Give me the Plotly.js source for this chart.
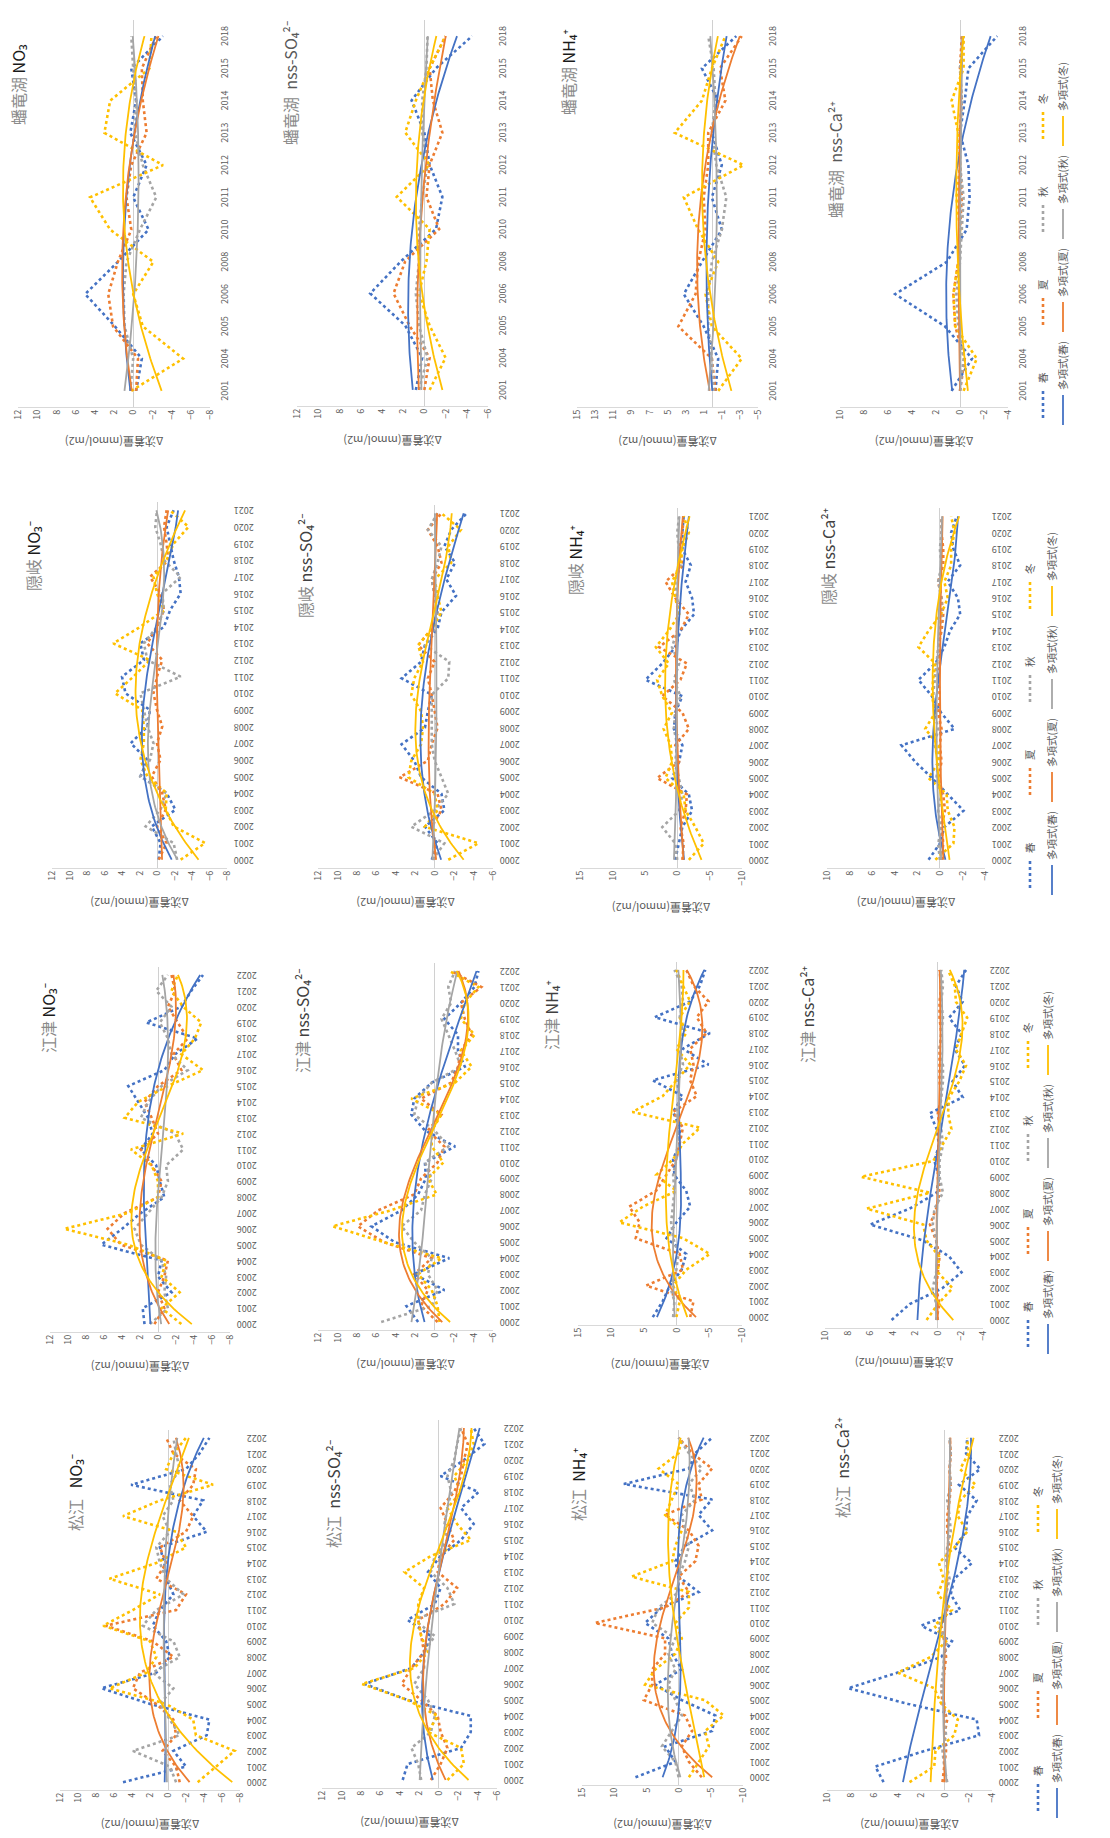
<!DOCTYPE html>
<html>
<head>
<meta charset="utf-8">
<script src="https://cdn.plot.ly/plotly-3.0.1.min.js"></script>
<style>
html,body{margin:0;padding:0;background:#ffffff;overflow:hidden;width:1110px;height:1838px;}
#chart{position:absolute;left:0;top:0;width:1838px;height:1110px;transform-origin:0 0;}
</style>
</head>
<body>
<div id="chart"></div>
<script>
// ---------------- DATA ----------------
const seasonNames = ['春', '夏', '秋', '冬'];
const trendNames = ['多項式(春)', '多項式(夏)', '多項式(秋)', '多項式(冬)'];
const siteNames = ['松江', '江津', '隠岐', '蟠竜湖'];
const axisTitle = 'Δ沈着量(mmol/m2)';

const yearsMatsue = ['2000','2001','2002','2003','2004','2005','2006','2007','2008','2009','2010','2011','2012','2013','2014','2015','2016','2017','2018','2019','2020','2021','2022'];
const yearsGotsu = ['2000','2001','2002','2003','2004','2005','2006','2007','2008','2009','2010','2011','2012','2013','2014','2015','2016','2017','2018','2019','2020','2021','2022'];
const yearsOki = ['2000','2001','2002','2003','2004','2005','2006','2007','2008','2009','2010','2011','2012','2013','2014','2015','2016','2017','2018','2019','2020','2021'];
const yearsHiryuko = ['2001','2004','2005','2006','2008','2010','2011','2012','2013','2014','2015','2018'];

// each: [春, 夏, 秋, 冬]
const matsueNO3 = [
  [5.0,-2.0,-0.6,-4.3,-4.6,2.0,7.4,1.3,-0.2,0.2,1.7,0.9,-0.6,0.2,0.4,0.9,-4.3,-2.8,-3.9,4.1,-2.0,-3.5,-4.6],
  [-1.3,-0.9,0.6,-0.9,-0.6,1.3,3.9,3.1,-0.6,1.7,6.9,-0.9,-2.0,1.3,0.2,0.9,-2.0,-2.8,-1.3,-2.8,-3.1,-0.6,0.2],
  [-0.9,-0.2,3.9,-1.3,-0.2,0.9,-0.6,1.7,-1.3,-0.6,2.8,1.3,-1.7,0.2,0.9,1.3,-0.2,0.6,-0.6,-0.2,-1.3,-0.9,-0.6],
  [-3.3,-5.4,-7.4,-3.1,-2.8,0.2,6.5,2.4,1.3,2.0,7.2,3.9,0.9,6.5,1.3,-2.0,-0.9,5.0,0.9,-5.0,0.2,-0.6,-2.0]
];
const matsueSO4 = [
  [3.7,3.2,-2.3,-3.3,-3.3,3.2,7.6,2.8,1.5,0.8,3.2,0.4,-0.2,1.1,-0.2,-2.3,-3.6,-2.3,-4.1,-0.2,-2.6,-4.7,-3.6],
  [0.8,-0.2,-0.9,-0.2,0.1,1.8,3.8,2.8,1.5,1.8,2.1,-0.6,-1.9,0.1,-0.2,-1.6,-0.9,-0.2,-1.6,-2.3,-2.6,-3.0,-2.3],
  [1.8,2.1,2.8,0.8,0.4,1.1,2.5,1.5,1.5,0.4,2.5,-1.6,-0.9,0.8,0.4,-0.9,-0.6,-0.9,-1.3,-0.9,-1.6,-1.9,-2.3],
  [-0.9,-2.6,-2.3,1.1,0.1,3.2,7.9,2.5,1.1,1.8,2.1,2.1,1.5,3.5,0.8,-3.3,-1.9,-0.9,-2.3,-1.6,-3.0,-3.6,-3.3]
];
const matsueNH4 = [
  [6.7,0.5,2.1,-5.2,-5.7,-0.5,3.6,-0.5,1.0,1.6,5.2,2.6,-3.1,0.0,0.5,-1.0,-5.2,-3.1,-5.2,8.5,-1.6,-2.6,-5.2],
  [-3.6,-1.6,-0.5,-2.1,-1.0,5.4,4.1,4.1,2.1,2.1,13.0,2.1,-1.6,0.0,-2.6,-3.1,-1.6,2.1,-3.6,-3.1,-5.2,-2.1,0.0],
  [0.0,0.5,2.6,1.0,-0.5,0.5,1.6,0.5,1.6,0.5,4.1,3.1,0.0,0.0,-1.0,-1.6,-1.0,-0.5,-2.6,-1.6,-3.6,-1.6,0.0],
  [-1.6,-3.1,-4.7,-4.1,-7.0,-4.1,5.2,3.6,0.5,-0.5,0.5,-1.6,-1.6,7.3,1.0,0.5,-0.5,2.1,1.0,0.0,3.1,0.0,-0.5]
];
const matsueCa = [
  [5.2,5.9,1.7,-2.9,-2.7,3.1,8.2,4.0,0.3,-0.6,2.0,-1.3,-0.5,-0.8,-2.3,-0.8,-1.8,-1.9,-2.7,-1.2,-3.0,-1.8,-1.9],
  [0.2,0.05,-0.1,0.05,-0.2,0.2,0.3,0.05,-0.1,0.05,0.3,-0.2,-0.1,-0.2,-0.2,-0.4,-0.2,-0.2,-0.4,-0.5,-0.4,-0.5,-0.4],
  [-0.2,0.05,0.2,-0.1,0.05,0.05,0.3,0.2,0.05,-0.2,0.6,-0.2,-0.1,-0.4,-0.1,-0.2,-0.5,-0.4,-0.2,-0.5,-0.4,-0.5,-0.4],
  [3.0,0.9,0.8,-0.8,-1.1,0.3,0.9,4.0,1.2,-0.1,0.9,-0.6,0.6,0.1,0.5,-0.8,-1.9,-1.1,-1.3,-2.6,-1.3,-2.0,-1.9]
];

const gotsuNO3 = [
  [1.5,1.7,-1.5,0.0,-0.4,6.3,4.0,1.9,-0.7,-0.2,0.2,1.9,0.6,1.1,2.2,3.3,-0.7,-1.9,-4.4,1.3,-2.6,-3.7,-5.0],
  [0.4,-0.7,0.0,-0.7,-1.1,4.1,5.6,3.7,0.0,-0.4,0.7,1.9,0.0,0.7,1.5,0.0,-2.6,-1.7,-3.3,-2.2,-1.1,-1.9,-1.5],
  [0.9,-1.1,-0.7,-0.9,-0.4,1.9,2.6,1.1,-0.4,-1.1,-0.9,-2.8,-1.9,1.9,1.1,-0.4,-3.3,-1.5,-1.1,-0.2,-1.5,0.2,-1.1],
  [-2.6,-0.4,-2.4,-0.4,-0.9,3.3,10.4,3.3,0.0,0.0,0.7,3.0,-2.8,3.7,2.2,-1.1,-5.0,-2.6,-4.1,-4.8,-2.8,-1.5,-2.2]
];
const gotsuSO4 = [
  [1.7,2.9,-1.0,2.1,-1.5,4.1,6.5,3.4,1.7,0.9,1.0,-2.1,1.0,2.4,2.1,0.3,-3.1,-2.4,-2.4,-1.0,-2.7,-4.1,-4.5],
  [-0.3,1.4,0.7,2.1,0.3,5.2,7.9,5.8,2.1,1.4,-0.3,-1.0,0.7,-0.7,1.4,-1.7,-2.4,-2.7,-3.8,-3.1,-2.7,-4.8,-1.7],
  [5.5,0.3,-0.3,0.7,0.3,2.1,3.4,1.4,1.0,0.3,1.0,-1.4,0.0,2.1,1.7,0.3,-2.7,-2.1,-1.4,-0.7,-1.7,-1.4,-2.1],
  [-0.5,-0.3,0.3,1.7,-0.7,5.2,10.5,4.5,-0.2,0.7,-0.9,0.3,0.3,-0.7,2.4,-2.1,-3.8,-2.7,-4.1,-2.7,-3.1,-4.5,-1.5]
];
const gotsuNH4 = [
  [3.6,2.1,1.0,-0.8,-1.5,1.5,0.0,-2.1,-1.5,0.3,0.5,-0.5,-0.5,0.5,-1.0,3.6,-4.9,-1.0,-5.1,3.3,-2.1,-3.6,-4.4],
  [-2.1,-2.6,4.6,-1.0,-0.5,6.2,5.6,7.2,3.1,1.5,0.0,-0.5,-1.0,0.5,-3.1,-2.1,-2.6,-2.1,-4.6,-3.1,-4.9,-2.6,-1.5],
  [0.5,0.3,1.0,0.0,-0.3,0.5,0.8,0.5,0.3,0.5,0.0,-0.5,-0.3,0.0,-0.5,0.0,-1.0,-0.5,-1.0,-0.5,-1.0,-0.8,0.3],
  [0.0,-0.5,0.5,-1.5,-5.1,-1.0,8.7,5.1,0.0,3.1,0.5,-1.0,-3.6,6.7,2.1,0.0,-2.1,0.0,-1.5,-0.5,-2.1,-1.0,0.0]
];
const gotsuCa = [
  [4.1,2.5,-0.4,-2.1,-1.0,1.3,6.0,2.5,0.1,-0.1,0.3,-0.1,0.1,0.7,-2.2,-1.3,-2.4,-1.5,-2.1,-1.0,-2.2,-1.6,-2.5],
  [0.15,-0.15,0.15,0.0,-0.15,0.15,0.7,0.15,-0.15,0.0,0.0,-0.15,-0.15,0.0,-0.3,-0.15,-0.15,-0.15,-0.3,-0.15,-0.15,-0.3,-0.15],
  [0.0,0.15,0.45,0.15,0.0,0.15,0.45,0.3,-0.45,-0.15,-0.15,-0.45,-0.3,-0.15,-0.3,-0.45,-0.45,-0.15,-0.3,-0.45,-0.3,-0.45,-0.3],
  [1.0,0.0,-1.3,0.0,-0.1,1.0,1.3,6.3,0.7,6.8,0.4,-0.4,-1.2,-0.9,-1.0,-1.9,-2.5,-1.6,-2.1,-2.6,-1.6,-1.5,-0.9]
];

const okiNO3 = [
  [-0.2,-0.4,0.6,-2.1,-1.1,1.9,1.1,3.0,1.1,0.8,3.6,4.0,1.5,1.9,-0.8,-1.5,-2.7,-2.5,-1.9,-1.5,-1.1,-1.9],
  [-0.2,-1.1,0.0,-1.0,-0.6,0.6,-0.4,0.0,-0.6,0.0,0.4,0.0,-0.6,1.1,0.0,-0.8,-0.4,0.8,-1.3,-1.1,-0.8,-1.1],
  [-2.3,-1.9,1.3,-0.4,-1.1,1.9,0.8,0.4,1.1,1.5,1.9,-2.7,1.1,1.5,0.0,-0.8,-0.6,-2.7,-0.8,-0.4,0.2,0.0],
  [-2.7,-5.5,-1.9,-1.0,-1.1,1.1,1.9,1.5,1.5,1.7,4.8,2.7,0.8,5.0,1.9,-0.8,0.0,0.4,-1.1,-1.9,-3.6,-1.5]
];
const okiSO4 = [
  [0.3,-0.3,1.0,-1.0,-0.7,1.4,2.1,3.4,1.0,0.7,0.3,3.4,1.4,1.0,-0.3,-0.7,-2.2,-1.2,-2.1,-1.0,-1.7,-3.3],
  [0.0,0.0,0.3,-0.7,-0.3,3.6,0.7,0.3,-0.3,0.0,0.3,0.7,0.0,1.7,0.3,-0.3,0.0,0.3,-0.7,-0.3,0.7,-0.7],
  [0.2,-1.0,2.4,0.0,-1.4,-0.7,0.0,0.3,0.3,0.3,0.3,-1.4,-1.5,1.0,0.0,-0.3,0.0,0.3,-0.3,-0.7,0.7,-0.3],
  [-1.4,-4.5,1.0,-0.3,0.0,2.7,2.4,1.4,1.2,1.4,2.4,2.1,1.2,1.7,0.3,-0.7,-0.3,0.0,-1.7,-1.4,-2.7,-0.7]
];
const okiNH4 = [
  [0.3,-0.3,-0.8,-2.3,-1.8,0.8,-0.3,-0.8,0.5,0.3,-0.8,4.9,2.3,0.3,-0.5,-2.6,-2.3,-1.3,-2.1,-0.8,-0.8,-1.0],
  [-0.8,-1.0,-0.5,-1.3,-1.5,3.1,-0.3,0.3,-1.8,-0.8,2.3,-0.5,-1.5,2.8,-0.5,-1.8,0.3,1.8,-1.0,-0.3,-0.8,-1.0],
  [0.0,0.3,2.3,-0.3,-0.8,-0.3,0.3,0.0,0.5,0.3,-0.5,0.5,-0.3,0.8,0.0,-0.3,0.0,0.3,-0.5,-0.3,0.0,-0.3],
  [-1.8,-4.1,-2.8,-1.3,-1.0,1.8,0.8,1.0,2.1,0.8,2.3,3.1,1.3,3.3,1.3,-0.3,0.3,0.8,-0.5,-0.8,-1.8,-1.0]
];
const okiCa = [
  [1.0,0.0,-0.4,-2.1,-0.7,0.7,2.2,3.4,-1.3,-0.1,0.7,1.9,0.4,-0.4,-0.9,-1.8,-1.6,-0.7,-1.8,-1.2,-1.0,-1.5],
  [-0.15,-0.3,-0.15,-0.45,-0.3,0.15,-0.15,0.0,-0.15,0.15,0.0,0.15,0.0,0.15,-0.15,-0.3,-0.15,0.15,-0.3,-0.3,-0.15,-0.15],
  [0.0,0.15,-0.15,0.15,-0.15,0.3,0.15,0.45,0.15,0.45,0.6,0.45,0.3,0.15,0.0,-0.15,-0.15,0.15,-0.15,0.0,-0.15,-0.15],
  [0.4,-1.2,-1.3,-0.7,-0.6,1.0,0.1,0.1,1.3,0.4,0.7,0.6,0.4,1.9,1.0,-0.1,-0.7,-0.4,-1.0,-1.0,-1.3,-1.0]
];

const hiryuNO3 = [
  [-0.3,-0.9,1.9,5.0,1.6,-1.6,0.0,-1.4,0.3,-0.3,0.2,-3.1],
  [-0.3,-0.5,2.1,2.6,1.6,0.2,0.7,0.2,-1.4,-1.0,-0.9,-2.4],
  [0.3,0.0,0.9,1.0,0.7,-0.7,-2.4,-1.0,-0.2,-0.3,0.0,0.2],
  [0.2,-5.2,-1.0,0.0,-2.1,2.4,4.5,-3.1,3.0,2.4,-1.7,-1.9]
];
const hiryuSO4 = [
  [0.8,0.2,1.8,5.1,2.2,-1.1,-1.7,-0.5,0.0,1.2,-1.1,-4.5],
  [0.0,-0.5,1.4,2.9,1.8,-1.4,-0.2,-0.5,-1.7,-0.8,-0.5,-2.0],
  [0.5,-0.3,0.5,0.8,0.5,0.5,0.2,-0.3,0.2,0.2,-0.2,-0.3],
  [-0.5,-2.0,-0.5,0.5,-0.2,-0.5,2.6,-0.5,1.8,0.8,-0.5,-2.0]
];
const hiryuNH4 = [
  [-0.3,-0.6,1.0,3.2,1.2,-1.0,0.1,-1.0,0.1,-0.6,1.2,-2.6],
  [-0.3,0.1,3.8,1.9,1.6,0.8,1.0,0.5,0.5,-1.4,-0.8,-3.2],
  [-0.1,0.1,0.5,0.5,0.1,-1.0,-1.5,-0.4,0.1,-0.3,-0.1,0.5],
  [-0.6,-3.2,0.1,0.8,-0.6,1.6,3.2,-3.4,4.2,1.2,0.1,-1.4]
];
const hiryuCa = [
  [0.7,-1.0,1.25,5.4,1.1,-0.55,-0.8,-0.7,0.0,-0.4,-0.7,-3.1],
  [0.0,-0.4,0.4,0.55,0.15,0.0,-0.15,0.0,0.0,-0.15,0.0,-0.15],
  [0.0,-0.3,0.15,0.3,0.0,-0.15,-0.3,0.0,0.0,-0.15,0.0,-0.3],
  [-0.3,-1.4,0.4,0.55,0.15,0.0,0.3,0.0,0.15,0.7,-0.3,-0.3]
];

// ---------------- STYLE / LAYOUT ----------------
const FONT = '"Noto Sans CJK JP", "Noto Sans", "DejaVu Sans", sans-serif';
const seasonColors = ['#4472C4', '#ED7D31', '#A5A5A5', '#FFC000'];
const W = 1838, H = 1110;   // unrotated figure; shown rotated 90° counter-clockwise
const PAGE_H = 1838;

// boxes in page (rotated) pixels: [left, right, top, bottom]; t = [title x, title top y, title bottom y]
const panels = [
  {site:0, order:3, data:matsueNO3, years:yearsMatsue, range:[-8,12], dtick:2, tick0:0, box:[60,240,1430,1790], t:[75,1440,1533], sp:'\u00a0\u00a0\u00a0', f:'NO₃⁻', fc:'#1a1a1a'},
  {site:0, order:3, data:matsueSO4, years:yearsMatsue, range:[-6,12], dtick:2, tick0:0, box:[322,497,1420,1788], t:[333,1447,1550], sp:'\u00a0\u00a0', f:'nss-SO₄²⁻', fc:'#404040'},
  {site:0, order:3, data:matsueNH4, years:yearsMatsue, range:[-10,15], dtick:5, tick0:0, box:[582,743,1430,1785], t:[578,1447,1523], sp:'\u00a0\u00a0', f:'NH₄⁺', fc:'#1a1a1a'},
  {site:0, order:3, data:matsueCa, years:yearsMatsue, range:[-4,10], dtick:2, tick0:0, box:[827,992,1430,1790], t:[842,1433,1520], sp:'\u00a0\u00a0', f:'nss-Ca²⁺', fc:'#404040'},

  {site:1, order:3, data:gotsuNO3, years:yearsGotsu, range:[-8,12], dtick:2, tick0:0, box:[50,230,967,1332], t:[48,988,1055], sp:'\u00a0', f:'NO₃⁻', fc:'#1a1a1a'},
  {site:1, order:3, data:gotsuSO4, years:yearsGotsu, range:[-6,12], dtick:2, tick0:0, box:[318,493,963,1330], t:[302,962,1075], sp:'\u00a0', f:'nss-SO₄²⁻', fc:'#404040'},
  {site:1, order:3, data:gotsuNH4, years:yearsGotsu, range:[-10,15], dtick:5, tick0:0, box:[578,742,962,1325], t:[551,972,1052], sp:'\u00a0', f:'NH₄⁺', fc:'#404040'},
  {site:1, order:3, data:gotsuCa, years:yearsGotsu, range:[-4,10], dtick:2, tick0:0, box:[825,983,962,1328], t:[807,952,1065], sp:'\u00a0', f:'nss-Ca²⁺', fc:'#404040'},

  {site:2, order:3, data:okiNO3, years:yearsOki, range:[-8,12], dtick:2, tick0:0, box:[52,227,502,868], t:[33,517,593], sp:'\u00a0', f:'NO₃⁻', fc:'#1a1a1a'},
  {site:2, order:3, data:okiSO4, years:yearsOki, range:[-6,12], dtick:2, tick0:0, box:[318,493,505,868], t:[305,517,620], sp:'\u00a0', f:'nss-SO₄²⁻', fc:'#404040'},
  {site:2, order:3, data:okiNH4, years:yearsOki, range:[-10,15], dtick:5, tick0:0, box:[580,742,508,868], t:[575,513,597], sp:'\u00a0', f:'NH₄⁺', fc:'#1a1a1a'},
  {site:2, order:3, data:okiCa, years:yearsOki, range:[-4,10], dtick:2, tick0:0, box:[827,985,508,868], t:[828,517,607], sp:'\u00a0', f:'nss-Ca²⁺', fc:'#404040'},

  {site:3, order:2, data:hiryuNO3, years:yearsHiryuko, range:[-8,12], dtick:2, tick0:0, box:[18,210,20,407], t:[18,33,127], sp:'\u00a0', f:'NO₃', fc:'#1a1a1a'},
  {site:3, order:2, data:hiryuSO4, years:yearsHiryuko, range:[-6,12], dtick:2, tick0:0, box:[297,488,20,406], t:[290,23,147], sp:'\u00a0\u00a0', f:'nss-SO₄²⁻', fc:'#595959'},
  {site:3, order:2, data:hiryuNH4, years:yearsHiryuko, range:[-5,15], dtick:2, tick0:1, box:[577,758,20,407], t:[568,20,117], sp:'\u00a0', f:'NH₄⁺', fc:'#1a1a1a'},
  {site:3, order:2, data:hiryuCa, years:yearsHiryuko, range:[-4,10], dtick:2, tick0:0, box:[840,1008,20,407], t:[835,93,220], sp:'\u00a0\u00a0', f:'nss-Ca²⁺', fc:'#595959'}
];

// legend placement per site (page px): text x of first row item, row y's
const legendPos = [
  {text1:62, row1:1038, row2:1057},
  {text1:526, row1:1028, row2:1048},
  {text1:985, row1:1030, row2:1052},
  {text1:1455, row1:1043, row2:1063}
];

function polyfit(xs, ys, deg) {
  const n = deg + 1, M = [];
  for (let i = 0; i < n; i++) M.push(new Array(n + 1).fill(0));
  xs.forEach((x, k) => {
    for (let i = 0; i < n; i++) {
      for (let j = 0; j < n; j++) M[i][j] += Math.pow(x, i + j);
      M[i][n] += Math.pow(x, i) * ys[k];
    }
  });
  for (let c = 0; c < n; c++) {
    let p = c;
    for (let r = c + 1; r < n; r++) if (Math.abs(M[r][c]) > Math.abs(M[p][c])) p = r;
    const tmp = M[c]; M[c] = M[p]; M[p] = tmp;
    for (let r = 0; r < n; r++) {
      if (r === c) continue;
      const f = M[r][c] / M[c][c];
      for (let q = c; q <= n; q++) M[r][q] -= f * M[c][q];
    }
  }
  return M.map((row, i) => row[n] / row[i]);
}
function polyval(c, x) { let s = 0; for (let i = c.length - 1; i >= 0; i--) s = s * x + c[i]; return s; }

const traces = [];
const trendTraces = [];
const layout = {
  width: W, height: H,
  margin: {l:0, r:0, t:0, b:0},
  paper_bgcolor: '#ffffff', plot_bgcolor: 'rgba(0,0,0,0)',
  font: {family: FONT, color: '#595959', size: 10},
  showlegend: true,
  hovermode: false,
  annotations: []
};

panels.forEach((p, k) => {
  const i = k + 1;
  const sfx = i === 1 ? '' : String(i);
  const xa = 'x' + sfx, ya = 'y' + sfx;
  const [L, R, T, B] = p.box;
  const N = p.years.length;
  const idx = p.years.map((_, j) => j);
  const species = k % 4;
  const isLegendPanel = species === 3;
  const dataLegend = 'legend' + (p.site === 0 ? '' : String(p.site * 2 + 1));
  const trendLegend = 'legend' + String(p.site * 2 + 2);

  layout['xaxis' + sfx] = {
    domain: [(PAGE_H - B) / W, (PAGE_H - T) / W], anchor: ya,
    range: [-0.5, N - 0.5], tickmode: 'array', tickvals: idx, ticktext: p.years,
    tickangle: N > 12 ? -90 : 0, ticklabelstandoff: N > 12 ? 4 : 8,
    showgrid: false, zeroline: false, showline: false,
    ticks: '', tickfont: {size: 9, color: '#595959', family: FONT}, fixedrange: true
  };
  layout['yaxis' + sfx] = {
    domain: [1 - R / H, 1 - L / H], anchor: xa,
    range: p.range, tick0: p.tick0, dtick: p.dtick, tickmode: 'linear',
    showgrid: false, zeroline: true, zerolinecolor: '#d0d0d0', zerolinewidth: 1,
    showline: true, linecolor: '#d9d9d9', linewidth: 1, ticks: '',
    tickfont: {size: 9, color: '#595959', family: FONT},
    title: {text: axisTitle, font: {size: 11, color: '#595959', family: FONT}, standoff: 14},
    fixedrange: true
  };

  p.data.forEach((vals, s) => {
    traces.push({
      type: 'scatter', mode: 'lines', x: idx, y: vals, xaxis: xa, yaxis: ya,
      name: seasonNames[s], legend: dataLegend, showlegend: isLegendPanel,
      line: {color: seasonColors[s], width: 2.6, dash: 'dot'}
    });
    const xs1 = idx.map(j => j + 1);
    const c = polyfit(xs1, vals, p.order);
    const fx = [], fy = [];
    for (let m = 0; m <= 120; m++) {
      const t = (N - 1) * m / 120;
      fx.push(t); fy.push(polyval(c, t + 1));
    }
    trendTraces.push({
      type: 'scatter', mode: 'lines', x: fx, y: fy, xaxis: xa, yaxis: ya,
      name: trendNames[s], legend: trendLegend, showlegend: isLegendPanel,
      line: {color: seasonColors[s], width: 1.8}
    });
  });

  layout.annotations.push({
    xref: 'paper', yref: 'paper', xanchor: 'left', yanchor: 'middle',
    x: (PAGE_H - p.t[2]) / W, y: 1 - p.t[0] / H, showarrow: false,
    text: '<span style="color:#8a8a8a">' + siteNames[p.site] + '</span>' + p.sp + p.f,
    font: {family: FONT, size: 16, color: p.fc}
  });
});

legendPos.forEach((lp, s) => {
  const base = {
    orientation: 'h', xanchor: 'left', yanchor: 'middle',
    entrywidth: 48, entrywidthmode: 'pixels',
    bgcolor: 'rgba(0,0,0,0)', borderwidth: 0,
    font: {family: FONT, size: 10.5, color: '#595959'},
    itemclick: false, itemdoubleclick: false, traceorder: 'normal'
  };
  const k1 = 'legend' + (s === 0 ? '' : String(s * 2 + 1));
  const k2 = 'legend' + String(s * 2 + 2);
  layout[k1] = Object.assign({}, base, {x: (lp.text1 - 40) / W, y: 1 - lp.row1 / H});
  layout[k2] = Object.assign({}, base, {x: (lp.text1 - 47) / W, y: 1 - lp.row2 / H});
});

const el = document.getElementById('chart');
Plotly.newPlot(el, traces.concat(trendTraces), layout, {staticPlot: true, displayModeBar: false}).then(() => {
  el.style.transform = 'translate(0px, ' + PAGE_H + 'px) rotate(-90deg)';
});
</script>
</body>
</html>
